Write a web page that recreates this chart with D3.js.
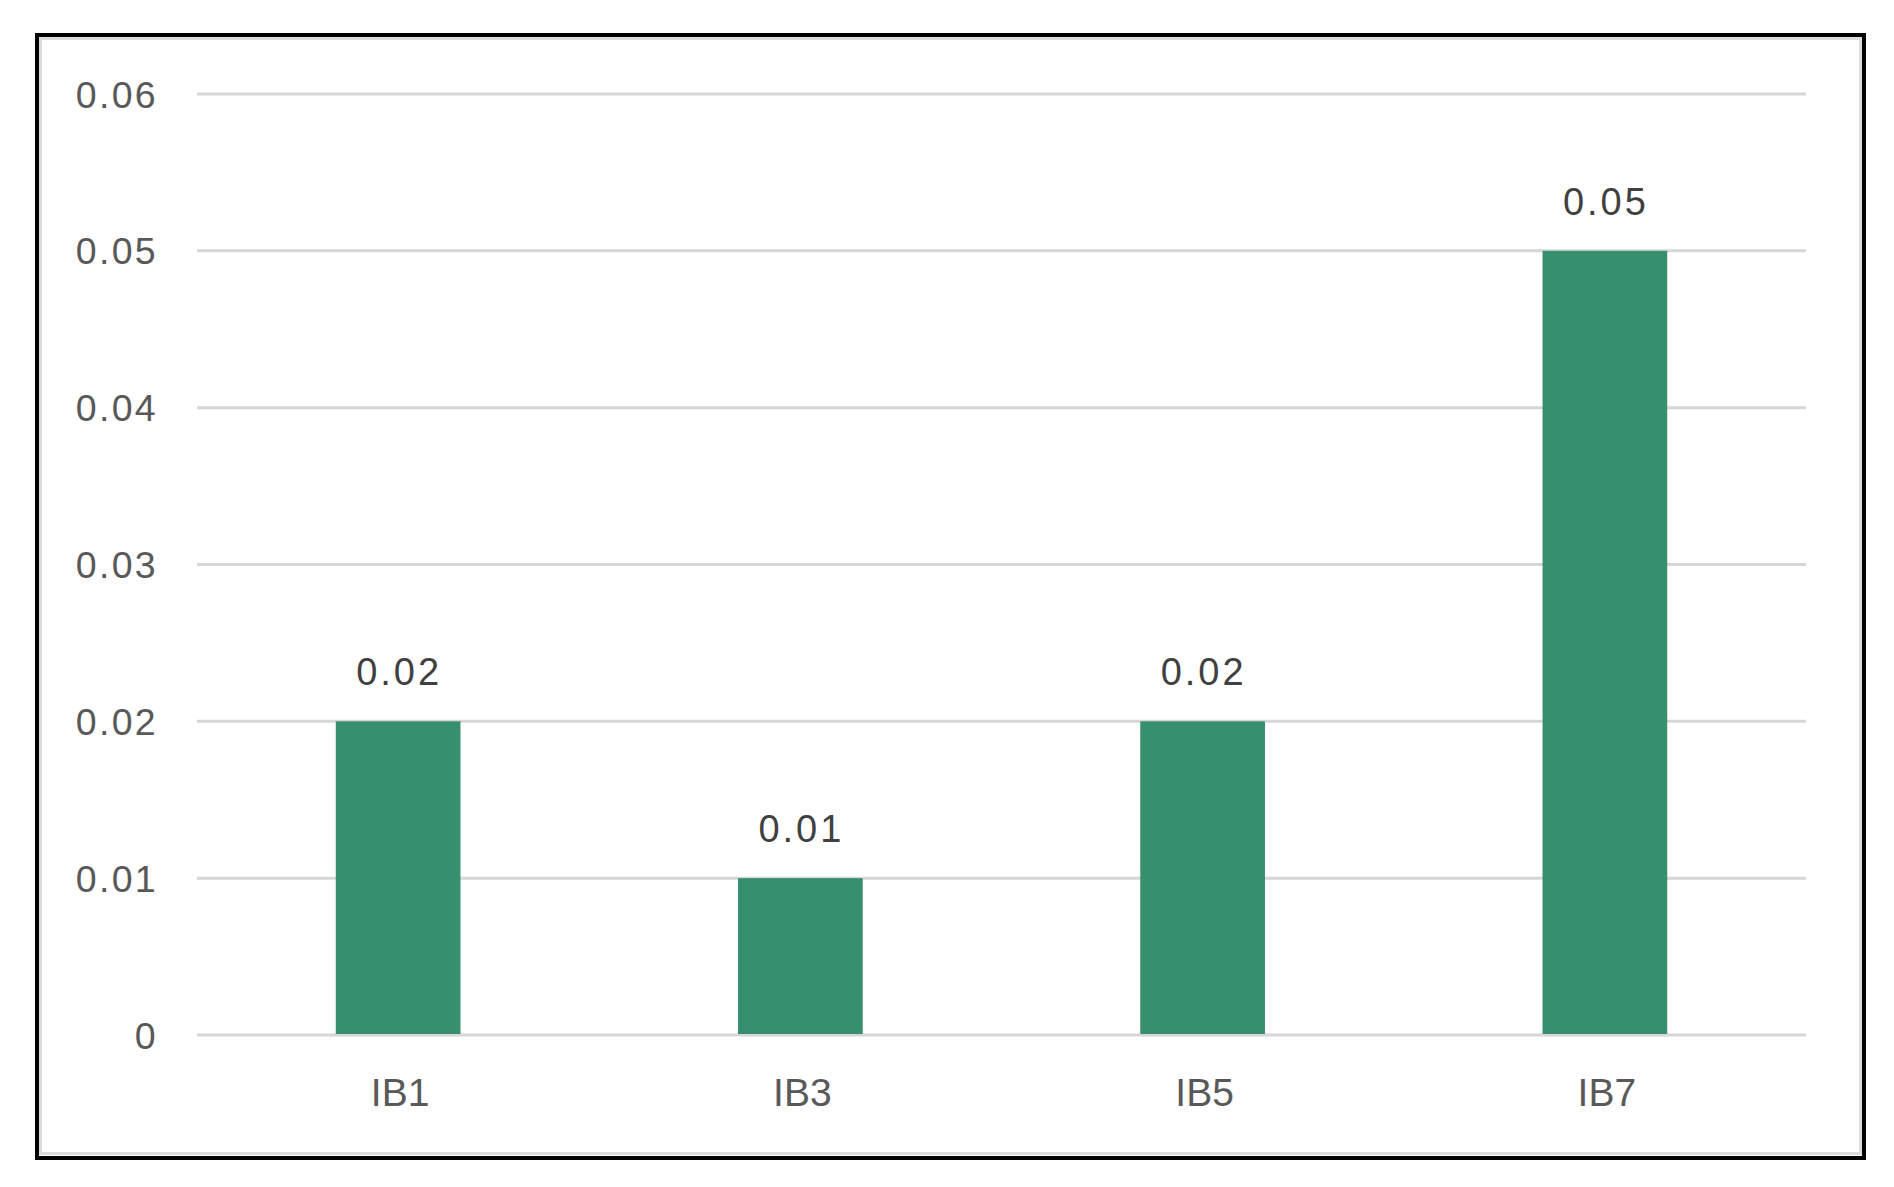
<!DOCTYPE html>
<html>
<head>
<meta charset="utf-8">
<script src="https://cdn.jsdelivr.net/npm/d3@7"></script>
<style>
  html, body { margin: 0; padding: 0; background: #ffffff; }
  svg { display: block; }
</style>
</head>
<body>
<svg id="chart" width="1894" height="1187"></svg>
<script>
const categories = ["IB1", "IB3", "IB5", "IB7"];
const values = [0.02, 0.01, 0.02, 0.05];
const valueLabels = ["0.02", "0.01", "0.02", "0.05"];
const yTicks = [0, 0.01, 0.02, 0.03, 0.04, 0.05, 0.06];
const yTickLabels = ["0", "0.01", "0.02", "0.03", "0.04", "0.05", "0.06"];

(function () {
const svg = d3.select("#chart");
const font = "'Liberation Sans', Arial, sans-serif";
const textColor = "#595959";

// frame
svg.append("rect").attr("x", 37).attr("y", 35).attr("width", 1827).attr("height", 1123)
  .attr("fill", "#ffffff").attr("stroke", "#000").attr("stroke-width", 4);
svg.append("rect").attr("x", 40.5).attr("y", 38.5).attr("width", 1820).attr("height", 1115)
  .attr("fill", "none").attr("stroke", "#dcdcdc").attr("stroke-width", 3);

const plotLeft = 197, plotRight = 1806, plotTop = 94, plotBottom = 1035;

const x = d3.scaleBand().domain(categories).range([plotLeft, plotRight]).paddingInner(0.69).paddingOuter(0.345);
const y = d3.scaleLinear().domain([0, 0.06]).range([plotBottom, plotTop]);

// gridlines
svg.append("g").selectAll("line").data(yTicks).join("line")
  .attr("x1", plotLeft).attr("x2", plotRight)
  .attr("y1", d => y(d)).attr("y2", d => y(d))
  .attr("stroke", "#d6d6d6").attr("stroke-width", 3);

// y axis labels
const yAxis = d3.axisLeft(y).tickValues(yTicks).tickFormat((d, i) => yTickLabels[i]).tickSize(0).tickPadding(0);
const yg = svg.append("g").attr("transform", `translate(158,0)`).call(yAxis);
yg.select(".domain").remove();
yg.selectAll("text").attr("font-family", font).attr("font-size", 37.5).attr("fill", textColor)
  .attr("letter-spacing", "2.3px").attr("dy", "0.35em");

// bars
svg.append("g").selectAll("rect").data(values).join("rect")
  .attr("x", (d, i) => x(categories[i]))
  .attr("width", x.bandwidth())
  .attr("y", d => y(d))
  .attr("height", d => y(0) - y(d) - 1)
  .attr("fill", "#368f6d");

// value labels
svg.append("g").selectAll("text").data(values).join("text")
  .attr("x", (d, i) => x(categories[i]) + x.bandwidth() / 2 + 1)
  .attr("y", d => y(d) - 36)
  .attr("text-anchor", "middle")
  .attr("font-family", font).attr("font-size", 38).attr("fill", "#404040")
  .attr("letter-spacing", "3px")
  .text((d, i) => valueLabels[i]);

// x axis labels
const xAxis = d3.axisBottom(x).tickSize(0).tickPadding(0);
const xg = svg.append("g").attr("transform", `translate(0,1106)`).call(xAxis);
xg.select(".domain").remove();
xg.selectAll("text").attr("font-family", font).attr("font-size", 39).attr("fill", textColor)
  .attr("dy", "0").attr("y", 0).attr("dx", "2");
})();
</script>
</body>
</html>
